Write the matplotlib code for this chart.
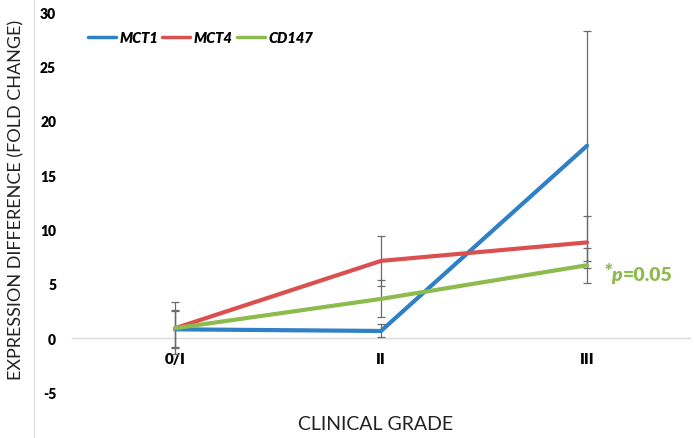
import numpy as np
import matplotlib.pyplot as plt

plt.rcParams['font.family'] = ['Lato', 'DejaVu Sans']

# Data
grades = ['0/I', 'II', 'III']
mct1 = [0.8, 0.65, 17.7]
mct1_err = [1.7, 0.6, 10.6]
mct4 = [0.9, 7.1, 8.8]
mct4_err = [2.4, 2.3, 2.4]
cd147 = [0.9, 3.6, 6.7]
cd147_err = [1.7, 1.7, 1.6]
yticks = [-5, 0, 5, 10, 15, 20, 25, 30]

colors = {'MCT1': '#2F80C4', 'MCT4': '#D9504E', 'CD147': '#8DBB4E'}

fig = plt.figure(figsize=(6.94, 4.39), dpi=100)
ax = fig.add_axes([34 / 694, 0, 1 - 34 / 694, 1])
x = np.arange(len(grades))

# error bars first so the lines sit on top
for vals, errs in [(mct1, mct1_err), (mct4, mct4_err), (cd147, cd147_err)]:
    ax.errorbar(x, vals, yerr=errs, fmt='none', ecolor='#6b6b6b',
                elinewidth=0.9, capsize=3, capthick=0.9, zorder=2)

for name, vals in [('MCT1', mct1), ('MCT4', mct4), ('CD147', cd147)]:
    ax.plot(x, vals, color=colors[name], lw=3, label=name,
            solid_capstyle='round', zorder=3)

# horizontal zero line
ax.axhline(0, xmin=(72 - 34) / 660, xmax=(690 - 34) / 660,
           color='#d9d9d9', lw=1, zorder=1)

ax.set_xlim(-0.684, 2.519)
ax.set_ylim(-9.2, 31.2)

ax.spines['top'].set_visible(False)
ax.spines['right'].set_visible(False)
ax.spines['bottom'].set_position(('data', 0))
ax.spines['bottom'].set_visible(False)
ax.spines['left'].set_color('#d9d9d9')

ax.set_yticks(yticks)
ax.set_yticklabels([str(v) for v in yticks], fontweight='heavy', fontsize=10)
ax.tick_params(axis='y', length=0, pad=-16)
ax.set_xticks(x)
ax.set_xticklabels(grades, fontweight='heavy', fontsize=11)
ax.tick_params(axis='x', length=0, pad=10)

fig.text(16 / 694, 1 - 200 / 439, 'EXPRESSION DIFFERENCE (FOLD CHANGE)',
         rotation=90, ha='center', va='center', fontsize=13, color='#222222')
fig.text(376 / 694, 1 - 425 / 439, 'CLINICAL GRADE', ha='center', va='center',
         fontsize=14, color='#222222')

leg = ax.legend(loc='upper left', bbox_to_anchor=((82 - 34) / 660, 1 - 26 / 439),
                ncol=3, frameon=False, handlelength=1.9, handletextpad=0.25,
                columnspacing=0.3, borderaxespad=0,
                prop={'weight': 'heavy', 'style': 'italic', 'size': 10.5})
for line in leg.get_lines():
    line.set_linewidth(2.5)

# "*p=0.05" annotation, pieces chained left to right
green = colors['CD147']
fig.canvas.draw()
star = ax.text(2.08, 5.5, '*', color=green, fontsize=15, fontweight='heavy',
               fontstyle='italic', va='baseline', ha='left')
fig.canvas.draw()
x_next = ax.transData.inverted().transform((star.get_window_extent().x1, 0))[0]
p_txt = ax.text(x_next - 0.005, 5.3, 'p', color=green, fontsize=14,
                fontweight='heavy', fontstyle='italic', va='baseline', ha='left')
fig.canvas.draw()
x_next = ax.transData.inverted().transform((p_txt.get_window_extent().x1, 0))[0]
ax.text(x_next + 0.005, 5.3, '=0.05', color=green, fontsize=14,
        fontweight='heavy', va='baseline', ha='left')

fig.savefig('out.png', dpi=100)
